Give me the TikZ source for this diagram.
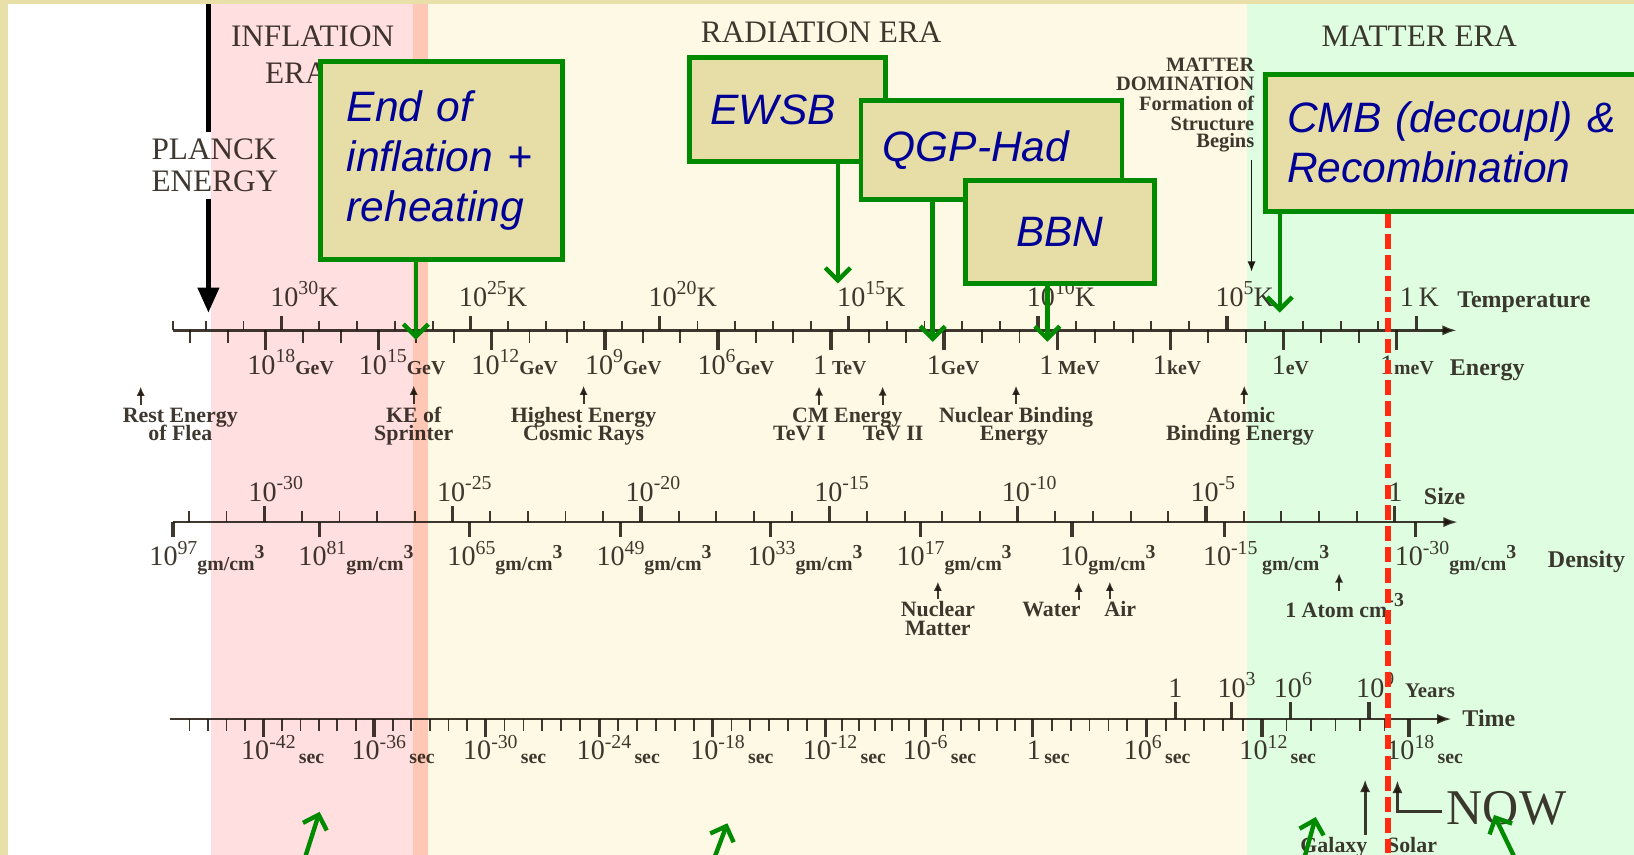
\documentclass[tikz,border=0pt]{standalone}
\usepackage{fontspec}
\setmainfont{Liberation Serif}
\newfontfamily\boxfont{Liberation Sans}
\usetikzlibrary{arrows.meta}
\definecolor{framec}{HTML}{E9DFA9}
\definecolor{pinkbg}{HTML}{FFDFDF}
\definecolor{salmonbg}{HTML}{FFC8B6}
\definecolor{creambg}{HTML}{FDF9E4}
\definecolor{greenbg}{HTML}{DFFEE1}
\definecolor{inkc}{HTML}{1E160E}
\definecolor{boxfill}{HTML}{E7DDA6}
\definecolor{gline}{HTML}{008A00}
\definecolor{boxtext}{HTML}{000096}
\definecolor{redc}{HTML}{FF2A10}
\newcommand\supr[1]{\raisebox{5.5pt}{\fontsize{9.5}{10}\selectfont #1}}
\newcommand\lowr[1]{\raisebox{-2pt}{\bfseries\fontsize{9.5}{10}\selectfont #1}}
\newcommand\unt[1]{{\bfseries\fontsize{9.5}{10}\selectfont #1}}
\newcommand\gmcm{\lowr{gm/cm\supr{3}}}
\newcommand\secs{\lowr{\,sec}}
\begin{document}
\begin{tikzpicture}[x=0.5pt,y=-0.5pt,
  axisln/.style={draw=inkc,draw opacity=0.85,line width=1.3pt,-{Latex[length=7pt,width=5pt]}},
  tmin/.style={draw=inkc,draw opacity=0.85,line width=0.9pt},
  tmaj/.style={draw=inkc,draw opacity=0.85,line width=1.6pt},
  lbl/.style={text=inkc,text opacity=0.85,inner sep=0pt,anchor=base west,font=\fontsize{13.5}{14}\selectfont},
  lblc/.style={lbl,anchor=base},
  axname/.style={text=inkc,text opacity=0.85,inner sep=0pt,anchor=base west,font=\bfseries\fontsize{11.5}{12}\selectfont},
  eratitle/.style={text=inkc,text opacity=0.85,inner sep=0pt,anchor=base,font=\fontsize{15}{16}\selectfont},
  notelbl/.style={text=inkc,text opacity=0.85,inner sep=0pt,anchor=base,font=\bfseries\fontsize{10.5}{11}\selectfont},
  smallnote/.style={text=inkc,text opacity=0.85,inner sep=0pt,anchor=base east,font=\bfseries\fontsize{9.8}{10}\selectfont},
  uparr/.style={draw=inkc,draw opacity=0.85,fill opacity=0.85,line width=1pt,-{Latex[length=4.5pt,width=4pt]}},
  barrow/.style={draw=inkc,draw opacity=0.85,fill opacity=0.85,line width=1.3pt,-{Latex[length=6pt,width=5pt]}},
  gbox/.style={draw=gline,line width=2.3pt,fill=boxfill,text=boxtext,inner ysep=0pt,align=left,font=\boxfont\itshape\fontsize{20.4}{24}\selectfont},
  garrow/.style={draw=gline,line width=2.1pt,-{Straight Barb[length=6pt,width=12pt]}},
  reddash/.style={draw=redc,line width=2.6pt,dash pattern=on 7pt off 3pt},
]
\useasboundingbox (0,0) rectangle (1568,820);
\begin{scope}
\clip (0,0) rectangle (1568,820);
% backgrounds
\fill[framec] (0,0) rectangle (1568,820);
\fill[white] (8,4) rectangle (202,820);
\fill[pinkbg] (202,4) rectangle (396,820);
\fill[salmonbg] (396,4) rectangle (411,820);
\fill[creambg] (411,4) rectangle (1197,820);
\fill[greenbg] (1197,4) rectangle (1568,820);

% era titles
\node[eratitle] (infl) at (300,45) {INFLATION};
\node[eratitle,anchor=base west] (inflera) at (254,80) {ERA};
\node[eratitle] (rad) at (788,41) {RADIATION ERA};
\node[eratitle] (mat) at (1362,45) {MATTER ERA};
\node[eratitle,anchor=base west] (planck1) at (145,153) {PLANCK};
\node[eratitle,anchor=base west] (planck2) at (145,184) {ENERGY};
\coordinate (ptop) at (200,4);
\coordinate (ptip) at (200,300);
\draw[draw=black,line width=2.2pt] (ptop) -- ([yshift=3pt]ptop |- planck1.north);
\draw[draw=black,line width=2.2pt,-{Triangle[length=12pt,width=10pt]}] ([yshift=-3pt]ptip |- planck2.south) -- (ptip);

% matter domination
\node[smallnote] (md1) at (1204,69) {MATTER};
\node[smallnote] (md2) at (1204,87) {DOMINATION};
\node[smallnote] (md3) at (1204,106) {Formation of};
\node[smallnote] (md4) at (1204,125) {Structure};
\node[smallnote] (md5) at (1204,142) {Begins};
\draw[draw=inkc,line width=0.8pt,-{Latex[length=5pt,width=4pt]}] ([xshift=-1.5pt,yshift=-3.5pt]md5.south east) -- ++(0,107);

% temperature / energy axis
\coordinate (Ta) at (166,317);
\coordinate (Tb) at (1398,317);
\draw[axisln] (Ta) -- (Tb);
\draw[tmin] (Ta) -- ++(0,-9);
\foreach \k in {0,...,32}{
  \pgfmathsetmacro\xx{1359-\k*36.3}
  \pgfmathtruncatemacro\mm{mod(\k,5)}
  \ifnum\mm=0 \draw[tmaj] (\xx,317) -- ++(0,-14); \else \draw[tmin] (\xx,317) -- ++(0,-9); \fi
}
\foreach \k in {0,...,32}{
  \pgfmathsetmacro\xx{1340-\k*36.17}
  \pgfmathtruncatemacro\mm{mod(\k,3)}
  \ifnum\mm=0 \draw[tmaj] (\xx,317) -- ++(0,19); \else \draw[tmin] (\xx,317) -- ++(0,12); \fi
}
\node[lbl] (t30) at (259,294) {10\supr{30}K};
\node[lbl] (t25) at (440,294) {10\supr{25}K};
\node[lbl] (t20) at (622,294) {10\supr{20}K};
\node[lbl] (t15) at (803,294) {10\supr{15}K};
\node[lbl] (t10) at (985,294) {10\supr{10}K};
\node[lbl] (t05) at (1166,294) {10\supr{5}K};
\node[lbl] (t00) at (1343,294) {1\,K};
\node[axname] (tname) at (1398,295) {Temperature};

\node[lbl] (e18) at (237,359) {10\supr{18}\unt{GeV}};
\node[lbl] (e15) at (344,359) {10\supr{15}\unt{GeV}};
\node[lbl] (e12) at (452,359) {10\supr{12}\unt{GeV}};
\node[lbl] (e09) at (561,359) {10\supr{9}\unt{GeV}};
\node[lbl] (e06) at (669,359) {10\supr{6}\unt{GeV}};
\node[lbl] (e03) at (780,359) {1\,\unt{TeV}};
\node[lbl] (e00) at (889,359) {1\unt{GeV}};
\node[lbl] (em3) at (997,359) {1\,\unt{MeV}};
\node[lbl] (em6) at (1106,359) {1\unt{keV}};
\node[lbl] (em9) at (1220,359) {1\unt{eV}};
\node[lbl] (em12) at (1324,359) {1\unt{meV}};
\node[axname] (ename) at (1391,360) {Energy};

% energy notes
\node[notelbl] (n1a) at (173,405) {Rest Energy};
\node[notelbl] (n1b) at (173,423) {of Flea};
\draw[uparr] ([xshift=-19pt,yshift=1pt]n1a.north) -- ++(0,-18);
\node[notelbl] (n2a) at (397,405) {KE of};
\node[notelbl] (n2b) at (397,423) {Sprinter};
\draw[uparr] ([yshift=1pt]n2a.north) -- ++(0,-18);
\node[notelbl] (n3a) at (560,405) {Highest Energy};
\node[notelbl] (n3b) at (560,423) {Cosmic Rays};
\draw[uparr] ([yshift=1pt]n3a.north) -- ++(0,-18);
\node[notelbl] (n4a) at (813,405) {CM Energy};
\node[notelbl] (n4b) at (767,423) {TeV I};
\node[notelbl] (n4c) at (857,423) {TeV II};
\draw[uparr] ([xshift=-13.5pt,yshift=1pt]n4a.north) -- ++(0,-18);
\draw[uparr] ([xshift=17pt,yshift=1pt]n4a.north) -- ++(0,-18);
\node[notelbl] (n5a) at (975,405) {Nuclear Binding};
\node[notelbl] (n5b) at (973,423) {Energy};
\draw[uparr] ([yshift=1pt]n5a.north) -- ++(0,-18);
\node[notelbl] (n6a) at (1191,405) {Atomic};
\node[notelbl] (n6b) at (1190,423) {Binding Energy};
\draw[uparr] ([xshift=1.5pt,yshift=1pt]n6a.north) -- ++(0,-18);

% size / density axis
\coordinate (Sa) at (166,501);
\coordinate (Sb) at (1399,501);
\draw[axisln] (Sa) -- (Sb);
\draw[tmaj] (Sa) -- ++(0,14);
\foreach \k in {0,...,32}{
  \pgfmathsetmacro\xx{1338-\k*36.15}
  \pgfmathtruncatemacro\mm{mod(\k,5)}
  \ifnum\mm=0 \draw[tmaj] (\xx,501) -- ++(0,-15); \else \draw[tmin] (\xx,501) -- ++(0,-11); \fi
}
\foreach \xx in {306.7,450.7,595.4,739.2,883.2,1028.7,1175,1358.5}{
  \draw[tmaj] (\xx,501) -- ++(0,14);
}
\node[lbl] (s30) at (238,481) {10\supr{-30}};
\node[lbl] (s25) at (419,481) {10\supr{-25}};
\node[lbl] (s20) at (600,481) {10\supr{-20}};
\node[lbl] (s15) at (781,481) {10\supr{-15}};
\node[lbl] (s10) at (961,481) {10\supr{-10}};
\node[lbl] (s05) at (1142,481) {10\supr{-5}};
\node[lblc] (s00) at (1339,481) {1};
\node[axname] (sname) at (1366,484) {Size};

\node[lbl] (d97) at (143,543) {10\supr{97}\gmcm};
\node[lbl] (d81) at (286,543) {10\supr{81}\gmcm};
\node[lbl] (d65) at (429,543) {10\supr{65}\gmcm};
\node[lbl] (d49) at (572,543) {10\supr{49}\gmcm};
\node[lbl] (d33) at (717,543) {10\supr{33}\gmcm};
\node[lbl] (d17) at (860,543) {10\supr{17}\gmcm};
\node[lbl] (d01) at (1017,543) {10\gmcm};
\node[lbl] (dm15) at (1154,543) {10\supr{-15}\,\gmcm};
\node[lbl] (dm30) at (1338,543) {10\supr{-30}\gmcm};
\node[axname] (dname) at (1485,545) {Density};

% density notes
\node[notelbl] (m1a) at (900,592) {Nuclear};
\node[notelbl] (m1b) at (900,610) {Matter};
\draw[uparr] ([yshift=1pt]m1a.north) -- ++(0,-17);
\node[notelbl] (m2) at (1009,592) {Water};
\draw[uparr] ([xshift=13pt,yshift=1pt]m2.north) -- ++(0,-17);
\node[notelbl] (m3) at (1075,592) {Air};
\draw[uparr] ([xshift=-5pt,yshift=1pt]m3.north) -- ++(0,-17);
\node[notelbl,anchor=base west] (m4) at (1233,593) {1 Atom cm\supr{-3}};
\draw[uparr] ([xshift=26pt,yshift=1pt]m4.north west) -- ++(0,-17);

% time axis
\coordinate (Ha) at (163,690);
\coordinate (Hb) at (1393,690);
\draw[axisln] (Ha) -- (Hb);
\foreach \p/\q in {253/359,359/466,466/575,575/684,684/792,792/888,888/991,991/1100,1100/1211,1211/1352}{
  \draw[tmaj] (\p,690) -- ++(0,17);
  \foreach \i in {1,...,5}{
    \pgfmathsetmacro\xx{\p+\i*(\q-\p)/6}
    \draw[tmin] (\xx,690) -- ++(0,11);
  }
}
\draw[tmaj] (1352,690) -- ++(0,17);
\foreach \i in {1,...,4}{
  \pgfmathsetmacro\xx{253-\i*17.8}
  \draw[tmin] (\xx,690) -- ++(0,11);
}
\foreach \xx in {1128,1182,1238.6,1313.7}{
  \draw[tmaj] (\xx,690) -- ++(0,-16);
}
\node[lbl] (h42) at (231,729) {10\supr{-42}\secs};
\node[lbl] (h36) at (337,729) {10\supr{-36}\secs};
\node[lbl] (h30) at (444,729) {10\supr{-30}\secs};
\node[lbl] (h24) at (553,729) {10\supr{-24}\secs};
\node[lbl] (h18) at (662,729) {10\supr{-18}\secs};
\node[lbl] (h12) at (770,729) {10\supr{-12}\secs};
\node[lbl] (h06) at (866,729) {10\supr{-6}\secs};
\node[lbl] (h00) at (985,729) {1\secs};
\node[lbl] (hp06) at (1078,729) {10\supr{6}\secs};
\node[lbl] (hp12) at (1189,729) {10\supr{12}\secs};
\node[lbl] (hp18) at (1330,729) {10\supr{18}\secs};
\node[lblc] (y0) at (1128,669) {1};
\node[lbl] (y3) at (1168,669) {10\supr{3}};
\node[lbl] (y6) at (1222,669) {10\supr{6}};
\node[lbl] (y9) at (1301,669) {10\supr{9}};
\node[axname,font=\bfseries\fontsize{10}{11}\selectfont] (yname) at (1348,669) {Years};
\node[axname] (hname) at (1403,697) {Time};

% galaxy / solar / now
\node[notelbl] (galaxy) at (1280,818) {Galaxy};
\node[notelbl] (solar) at (1355,818) {Solar};
\draw[barrow] ([xshift=15pt,yshift=1pt]galaxy.north) -- ++(0,-53);
\node[text=inkc,text opacity=0.85,inner sep=0pt,anchor=base west,font=\fontsize{24}{25}\selectfont] (now) at (1388,791) {NOW};
\coordinate (solarC) at (1341,779);
\draw[barrow] ([xshift=-2pt]solarC -| now.west) -- (solarC) -- ++(0,-30);

% boxes
\node[gbox,text width=90.8pt,inner xsep=12.6pt,minimum height=94.7pt] (endinf) at (423.5,154) {End of\\inflation +\\reheating};
\coordinate (tipEnd) at (399,326);
\draw[garrow] (endinf.south -| tipEnd) -- (tipEnd);

\node[gbox,text width=73.6pt,inner xsep=10.3pt,minimum height=49.7pt] (ewsb) at (755.5,105) {EWSB};
\coordinate (tipEW) at (804,272);
\draw[garrow] (ewsb.south -| tipEW) -- (tipEW);

\node[gbox,text width=104.6pt,inner xsep=10.3pt,minimum height=47.7pt] (qgp) at (951.5,144) {QGP-Had};
\coordinate (tipQ) at (895,328);
\draw[garrow] (qgp.south -| tipQ) -- (tipQ);

\node[gbox,align=center,text width=70.1pt,inner xsep=10.3pt,minimum height=49.5pt] (bbn) at (1017,222.75) {BBN};
\coordinate (tipB) at (1005,328);
\draw[garrow] (bbn.south -| tipB) -- (tipB);

\node[gbox,text width=159.6pt,inner xsep=10.35pt,minimum height=65.7pt] (cmb) at (1394.6,137) {CMB (decoupl) \&\\Recombination};
\coordinate (tipC) at (1228,300);
\draw[garrow] (cmb.south -| tipC) -- (tipC);

% red dashed line
\coordinate (redbot) at (1332,822);
\draw[reddash] (cmb.south -| redbot) -- (redbot);

% bottom green arrows
\coordinate (g1s) at (293,822); \coordinate (g1e) at (306.7,779);
\coordinate (g2s) at (686,822); \coordinate (g2e) at (698,790);
\coordinate (g3s) at (1252,822); \coordinate (g3e) at (1262.6,784);
\coordinate (g4s) at (1453,822); \coordinate (g4e) at (1433.7,782);
\draw[garrow] (g1s) -- (g1e);
\draw[garrow] (g2s) -- (g2e);
\draw[garrow] (g3s) -- (g3e);
\draw[garrow] (g4s) -- (g4e);
\end{scope}
\end{tikzpicture}
\end{document}
